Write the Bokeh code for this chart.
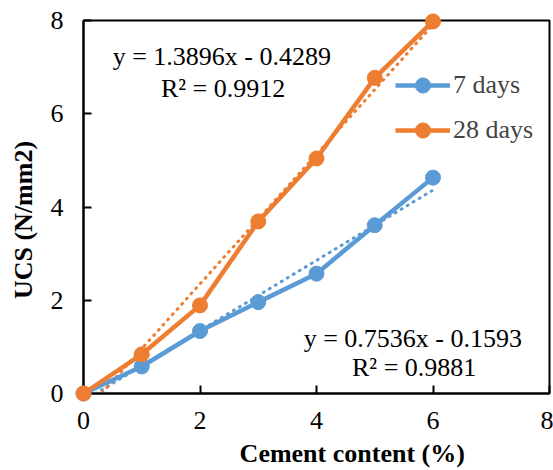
from bokeh.plotting import figure
from bokeh.models import Range1d, Legend, LegendItem, Label, FixedTicker
from bokeh.embed import file_html
from bokeh.resources import INLINE
import numpy as np

cement = [0, 1, 2, 3, 4, 5, 6]
ucs_7 = [0, 0.58, 1.34, 1.96, 2.57, 3.61, 4.63]
ucs_28 = [0, 0.84, 1.89, 3.69, 5.04, 6.77, 7.98]
fit_7 = (0.7536, -0.1593)
fit_28 = (1.3896, -0.4289)
eq_7 = ["y = 0.7536x - 0.1593", "R² = 0.9881"]
eq_28 = ["y = 1.3896x - 0.4289", "R² = 0.9912"]
ticks = [0, 2, 4, 6, 8]
x_title = "Cement content (%)"
y_title = "UCS (N/mm2)"

BLUE = "#5B9BD5"
ORANGE = "#ED7D31"
FONT = "Liberation Serif"
FS = "26px"
NBSP = "\u00a0"

p = figure(width=553, height=470, output_backend="svg", toolbar_location=None,
           x_range=Range1d(0, 8), y_range=Range1d(0, 8),
           min_border_left=83, min_border_right=4, min_border_top=20, min_border_bottom=77)
p.grid.visible = False
p.background_fill_color = "white"
p.outline_line_color = "black"
p.outline_line_width = 2
p.outline_line_alpha = 1

for ax in (p.xaxis[0], p.yaxis[0]):
    ax.ticker = FixedTicker(ticks=ticks)
    ax.axis_line_width = 2
    ax.axis_line_color = "black"
    ax.major_tick_in = 8
    ax.major_tick_out = 0
    ax.major_tick_line_width = 2
    ax.minor_tick_line_color = None
    ax.major_label_text_font = FONT
    ax.major_label_text_font_size = FS
    ax.major_label_text_color = "black"
    ax.axis_label_text_font = FONT
    ax.axis_label_text_font_size = FS
    ax.axis_label_text_font_style = "bold"
    ax.axis_label_text_color = "black"

# titles are off-centre in the reference: pad with non-breaking spaces
p.xaxis.axis_label = NBSP * 11 + x_title
p.yaxis.axis_label = y_title + NBSP * 4
p.xaxis.major_label_standoff = 18
p.yaxis.major_label_standoff = 20
p.xaxis.axis_label_standoff = 7
p.yaxis.axis_label_standoff = 10

# trendlines
xt = np.array([0, 6])
p.line(xt, fit_7[0] * xt + fit_7[1], line_color=BLUE, line_width=3, line_dash="1 6", line_cap="round")
p.line(xt, fit_28[0] * xt + fit_28[1], line_color=ORANGE, line_width=3, line_dash="1 6", line_cap="round")

l7 = p.line(cement, ucs_7, line_color=BLUE, line_width=4.5)
m7 = p.scatter(cement, ucs_7, size=15, fill_color=BLUE, line_color=BLUE)
l28 = p.line(cement, ucs_28, line_color=ORANGE, line_width=4.5)
m28 = p.scatter(cement, ucs_28, size=15, fill_color=ORANGE, line_color=ORANGE)
for r in (l7, m7, l28, m28):
    r.level = "overlay"

legend = Legend(items=[LegendItem(label="7 days", renderers=[l7, m7]),
                       LegendItem(label="28 days", renderers=[l28, m28])],
                location=(312, 244), padding=0, margin=0, spacing=7,
                glyph_width=55, glyph_height=38, label_height=20, label_standoff=3,
                label_text_font=FONT, label_text_font_size=FS,
                background_fill_alpha=0, border_line_color=None)
p.add_layout(legend, "center")

for txt, x, y in [(eq_28[0], 0.5, 7.22), (eq_28[1], 1.33, 6.545),
                  (eq_7[0], 3.78, 1.174), (eq_7[1], 4.61, 0.565)]:
    p.add_layout(Label(x=x, y=y, text=txt, text_font=FONT, text_font_size=FS,
                       text_baseline="middle", text_align="left", text_color="black"))

open("out.html", "w").write(file_html(p, INLINE))
